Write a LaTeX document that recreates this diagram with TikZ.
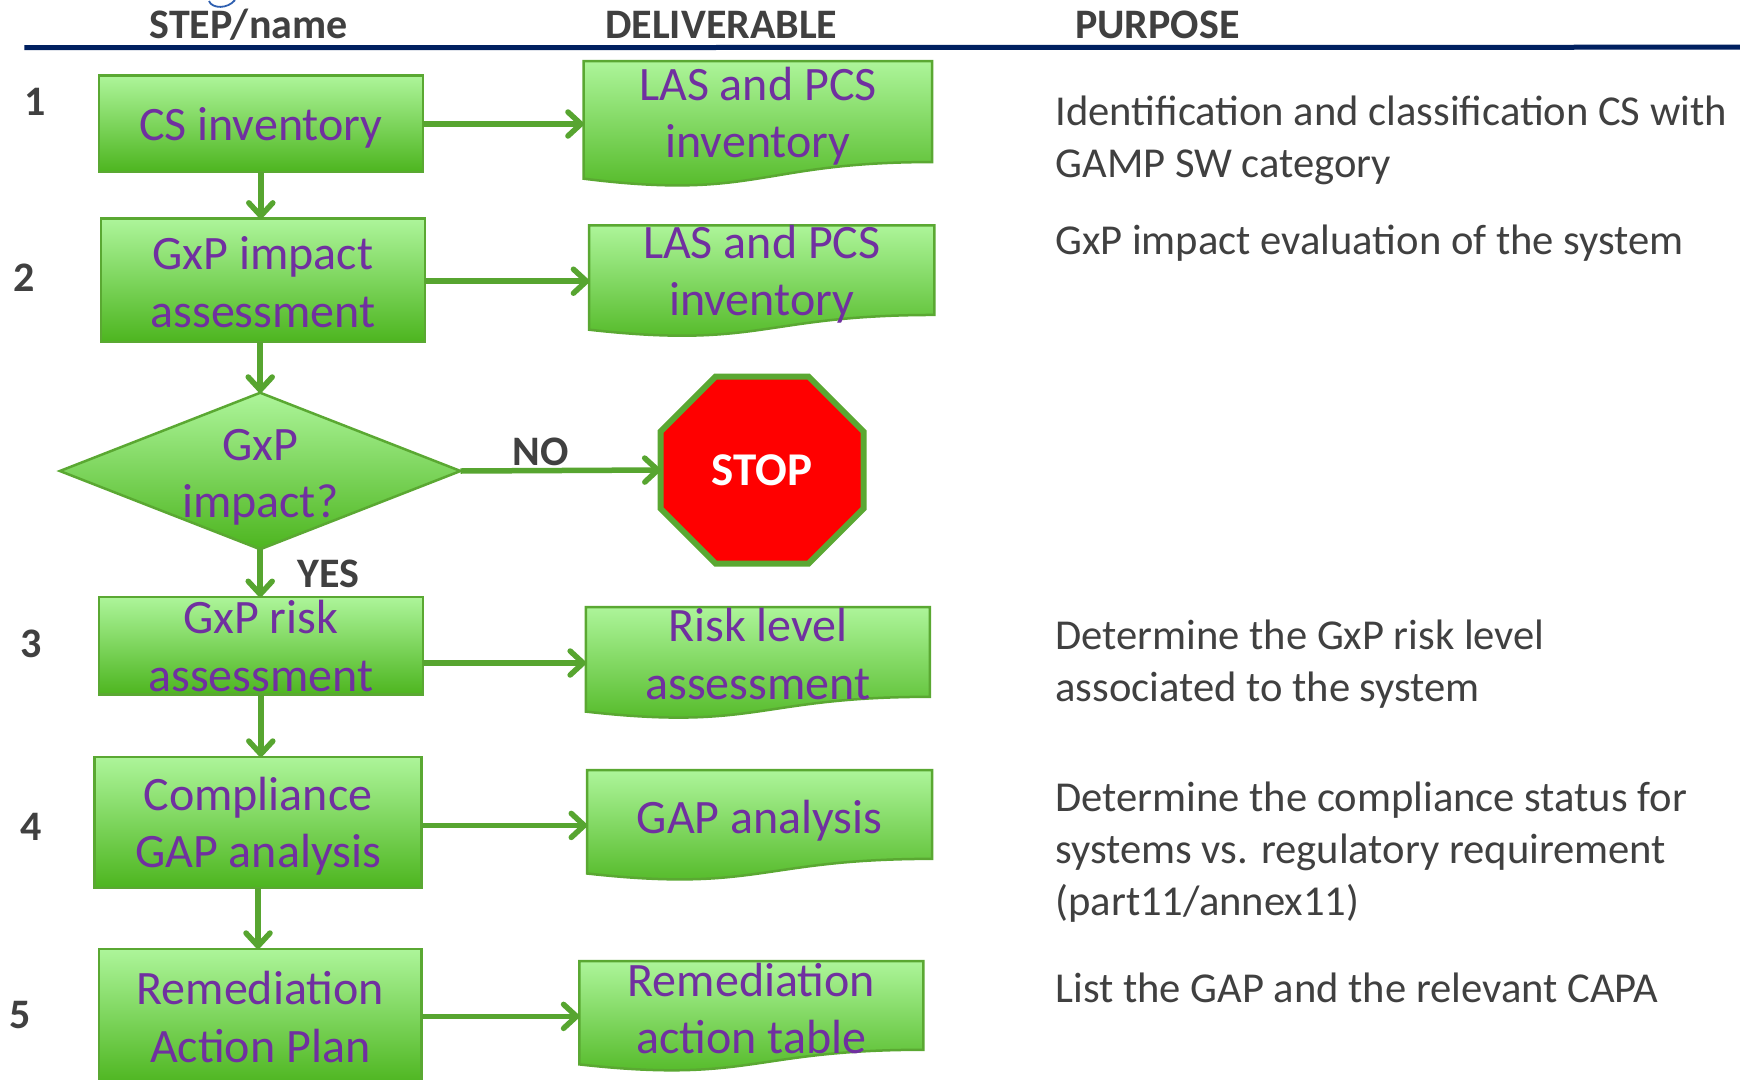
\documentclass[tikz,border=0pt]{standalone}
\usepackage{fontspec}
\setmainfont{Carlito}
\usetikzlibrary{arrows.meta,calc}

\definecolor{boxpurple}{HTML}{7030A0}
\definecolor{txtgray}{HTML}{404040}
\definecolor{navy}{HTML}{002060}
\definecolor{boxline}{HTML}{5AA832}
\definecolor{arrowgreen}{HTML}{57A530}
\definecolor{gtop}{HTML}{ADF59A}
\definecolor{gmid}{HTML}{97E283}
\definecolor{gbot}{HTML}{4DB51F}
\definecolor{stopred}{HTML}{FF0000}
\definecolor{logoblue}{HTML}{2E5FB0}

% wavy-bottom "document" outline built on an invisible box node
\newcommand\docoutline[1]{%
  \path[greenfill] (#1.north west) -- (#1.north east)
    -- ($(#1.north east)!0.802!(#1.south east)$)
    .. controls ($(#1.north)!0.802!(#1.south)$) and ($(#1.north)!1.1075!(#1.south)$)
    .. ($(#1.north west)!0.934!(#1.south west)$) -- cycle;}

\begin{document}
\begin{tikzpicture}[x=1pt,y=-1pt,
  frame/.style={rectangle, inner sep=0pt, outer sep=0pt, draw=boxline, line width=2.5pt,
    top color=gtop, middle color=gmid, bottom color=gbot},
  holder/.style={rectangle, inner sep=0pt, outer sep=0pt, draw=none},
  boxtext/.style={text=boxpurple, font=\fontsize{48}{57.5}\selectfont, align=center, inner sep=0pt},
  greenfill/.style={draw=boxline, line width=2.5pt, top color=gtop, middle color=gmid, bottom color=gbot},
  flow/.style={draw=arrowgreen, line width=5.5pt,
    -{Straight Barb[length=13pt,width=24pt,line cap=round,line join=round]}},
  hdr/.style={text=txtgray, font=\bfseries\fontsize{42}{50}\selectfont, inner sep=0pt},
  purpose/.style={text=txtgray, font=\fontsize{42.6}{52}\selectfont, align=left, anchor=west, inner sep=0pt},
]
\useasboundingbox (0,0) rectangle (1740,1079);
\fill[white] (0,0) rectangle (1740,1079);

% logo fragment and header rule
\draw[logoblue, line width=1.8pt] (209,1) .. controls (212,9) and (228,9) .. (235,0);
\draw[navy, line width=5pt] (24.4,47.7) -- (1740,47.2);

% column headers
\node[hdr] (hstep) at (248.6,24.4) {STEP/name};
\node[hdr] (hdel)  at (721.3,24.4) {DELIVERABLE};
\node[hdr] (hpur)  at (1157.4,24.4) {PURPOSE};

% step numbers
\node[hdr] (n1) at (35.5,102.1) {1};
\node[hdr] (n2) at (24.4,277.4) {2};
\node[hdr] (n3) at (31.1,643.6) {3};
\node[hdr] (n4) at (31.1,826.7) {4};
\node[hdr] (n5) at (20,1015.4) {5};

% step boxes
\node[frame, minimum width=324, minimum height=96.5] (b1) at (260.8,123.75) {};
\node[boxtext] (b1t) at ([yshift=-4.4pt]b1.center) {CS inventory};
\node[frame, minimum width=324, minimum height=123.2] (b2) at (263,280.2) {};
\node[boxtext] (b2t) at ([yshift=-2pt]b2.center) {GxP impact\\assessment};
\node[frame, minimum width=324, minimum height=97.7] (b3) at (260.8,645.85) {};
\node[boxtext] (b3t) at (b3.center) {GxP risk\\assessment};
\node[frame, minimum width=327.4, minimum height=131] (b4) at (258,822.3) {};
\node[boxtext] (b4t) at ([yshift=-4pt]b4.center) {Compliance\\GAP analysis};
\node[frame, minimum width=322.9, minimum height=136.4] (b5) at (260.25,1017) {};
\node[boxtext] (b5t) at (b5.center) {Remediation\\Action Plan};

% decision
\node[holder, minimum width=400.6, minimum height=156.5] (dia) at (260.2,471) {};
\path[greenfill, line join=miter] (dia.north) -- (dia.east) -- (dia.south) -- (dia.west) -- cycle;
\node[boxtext] (diat) at ([yshift=-6.5pt]dia.center) {GxP\\impact?};

% stop sign
\node[holder, minimum width=203, minimum height=187] (stop) at (762,470) {};
\path[fill=stopred, draw=boxline, line width=6pt, line join=miter]
  ([xshift=55pt]stop.north west) -- ([xshift=-55pt]stop.north east)
  -- ([yshift=-55pt]stop.north east) -- ([yshift=55pt]stop.south east)
  -- ([xshift=-55pt]stop.south east) -- ([xshift=55pt]stop.south west)
  -- ([yshift=55pt]stop.south west) -- ([yshift=-55pt]stop.north west) -- cycle;
\node[text=white, font=\bfseries\fontsize{47}{57}\selectfont, inner sep=0pt] (stopt) at (stop.center) {STOP};

% deliverables
\node[holder, minimum width=348.5, minimum height=126] (d1) at (757.95,124) {};
\docoutline{d1}
\node[boxtext] (d1t) at ([yshift=8pt]d1.center) {LAS and PCS\\inventory};
\node[holder, minimum width=345.2, minimum height=111.8] (d2) at (761.8,281.2) {};
\docoutline{d2}
\node[boxtext] (d2t) at ([yshift=7pt]d2.center) {LAS and PCS\\inventory};
\node[holder, minimum width=344, minimum height=112] (d3) at (757.9,663) {};
\docoutline{d3}
\node[boxtext] (d3t) at ([yshift=9pt]d3.center) {Risk level\\assessment};
\node[holder, minimum width=345.2, minimum height=110.8] (d4) at (759.6,825.4) {};
\docoutline{d4}
\node[boxtext] (d4t) at ([yshift=5pt]d4.center) {GAP analysis};
\node[holder, minimum width=344, minimum height=110.7] (d5) at (751.3,1016.35) {};
\docoutline{d5}
\node[boxtext] (d5t) at ([yshift=8pt]d5.center) {Remediation\\action table};

% purposes
\node[purpose] (p1) at (1055.3,140.4) {Identification and classification CS with\\GAMP SW category};
\node[purpose] (p2) at (1055.3,243) {GxP impact evaluation of the system};
\node[purpose] (p3) at (1055.3,664) {Determine the GxP risk level\\associated to the system};
\node[purpose] (p4) at (1055.3,852.2) {Determine the compliance status for\\systems vs. regulatory requirement\\(part11/annex11)};
\node[purpose] (p5) at (1055.3,987.6) {List the GAP and the relevant CAPA};

% connectors
\draw[flow] (d1.west -| b1.east) -- (d1.west);
\draw[flow] (d2.west -| b2.east) -- (d2.west);
\draw[flow] (dia.east) -- (stop.west);
\draw[flow] (d3.west -| b3.east) -- (d3.west);
\draw[flow] (d4.west -| b4.east) -- (d4.west);
\draw[flow] (d5.west -| b5.east) -- (d5.west);
\draw[flow] (b1.south) -- (b1.south |- b2.north);
\draw[flow] (b2.south -| dia.north) -- (dia.north);
\draw[flow] (dia.south) -- (dia.south |- b3.north);
\draw[flow] (b3.south) -- (b3.south |- b4.north);
\draw[flow] (b4.south) -- (b4.south |- b5.north);

% branch labels
\node[hdr] (lno)  at (540.4,451.6) {NO};
\node[hdr] (lyes) at (328.5,573.7) {YES};
\end{tikzpicture}
\end{document}
